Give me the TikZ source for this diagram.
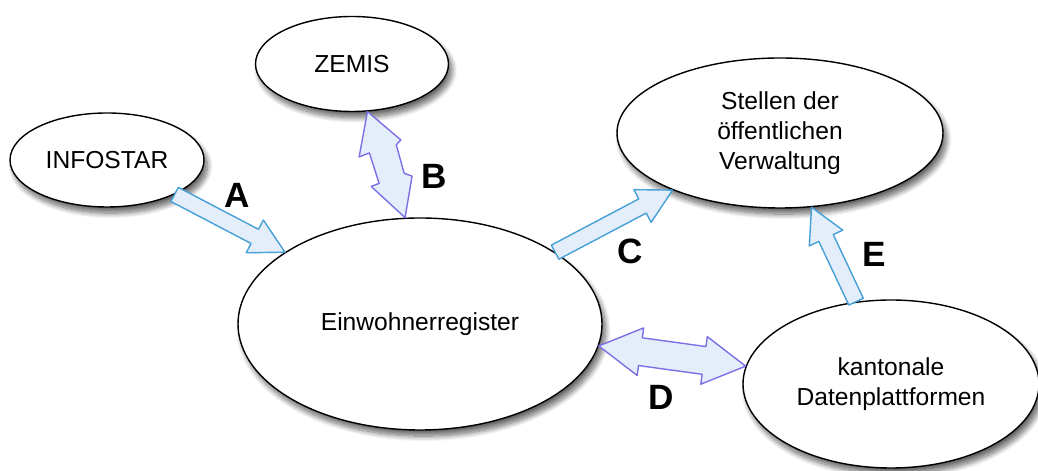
\documentclass[tikz,border=0pt]{standalone}
\usepackage{fontspec}
\setmainfont{Liberation Sans}
\usetikzlibrary{shapes.geometric,calc,shadows.blur}

\definecolor{arrowfill}{RGB}{228,238,250}
\definecolor{bluedge}{RGB}{70,160,215}
\definecolor{violetedge}{RGB}{125,112,230}

\tikzset{
  register/.style={ellipse, draw=black, line width=0.8pt, fill=white, inner sep=0pt, align=center,
    font=\fontsize{14}{17}\selectfont,
    blur shadow={shadow xshift=2pt, shadow yshift=-3.5pt, shadow blur radius=3pt, shadow blur steps=12, shadow opacity=60}},
  flowblue/.style={draw=bluedge, fill=arrowfill, line width=0.8pt, line join=round},
  flowviolet/.style={draw=violetedge, fill=arrowfill, line width=0.8pt, line join=round},
  letter/.style={font=\fontsize{20}{24}\selectfont\bfseries}
}

% block arrow with one head
\newcommand{\onewayarrow}[3]{%
  \coordinate (hb) at ($(#3)!0.68cm!(#2)$);
  \draw[#1] ($(#2)!0.16cm!90:(#3)$) -- ($(hb)!0.16cm!90:(#3)$) -- ($(hb)!0.37cm!90:(#3)$) -- (#3)
    -- ($(hb)!0.37cm!-90:(#3)$) -- ($(hb)!0.16cm!-90:(#3)$) -- ($(#2)!0.16cm!-90:(#3)$) -- cycle;}

% block arrow with two heads
\newcommand{\twowayarrow}[3]{%
  \coordinate (ha) at ($(#2)!0.84cm!(#3)$);
  \coordinate (hb) at ($(#3)!0.84cm!(#2)$);
  \draw[#1] (#2) -- ($(ha)!0.48cm!90:(#3)$) -- ($(ha)!0.28cm!90:(#3)$) -- ($(hb)!0.28cm!90:(#3)$)
    -- ($(hb)!0.48cm!90:(#3)$) -- (#3) -- ($(hb)!0.48cm!-90:(#3)$) -- ($(hb)!0.28cm!-90:(#3)$)
    -- ($(ha)!0.28cm!-90:(#3)$) -- ($(ha)!0.48cm!-90:(#3)$) -- cycle;}

% two heads, zigzag shaft
\newcommand{\boltarrow}[3]{%
  \coordinate (q1) at ($(#2)!0.337!(#3)$);
  \coordinate (q2) at ($(#2)!0.364!(#3)$);
  \coordinate (q3) at ($(#2)!0.626!(#3)$);
  \coordinate (q4) at ($(#2)!0.673!(#3)$);
  \coordinate (q5) at ($(#2)!0.638!(#3)$);
  \coordinate (q6) at ($(#2)!0.636!(#3)$);
  \coordinate (q7) at ($(#2)!0.352!(#3)$);
  \coordinate (q8) at ($(#2)!0.355!(#3)$);
  \draw[#1] (#2) -- ($(q1)!0.44cm!90:(#3)$) -- ($(q2)!0.32cm!90:(#3)$) -- ($(q3)!0.28cm!90:(#3)$)
    -- ($(q4)!0.41cm!90:(#3)$) -- (#3) -- ($(q5)!0.43cm!-90:(#3)$) -- ($(q6)!0.26cm!-90:(#3)$)
    -- ($(q7)!0.24cm!-90:(#3)$) -- ($(q8)!0.46cm!-90:(#3)$) -- cycle;}

\begin{document}
\begin{tikzpicture}
  \useasboundingbox (0,0) rectangle (20.76,9.42);

  \node[register, minimum width=3.88cm, minimum height=1.88cm] (infostar) at (2.14,6.22) {INFOSTAR};
  \node[register, minimum width=3.86cm, minimum height=1.9cm] (zemis) at (7.04,8.14) {ZEMIS};
  \node[register, minimum width=6.52cm, minimum height=3cm] (stellen) at (15.6,6.76) {Stellen der\\öffentlichen\\Verwaltung};
  \node[register, minimum width=7.28cm, minimum height=4.24cm] (einw) at (8.4,2.94) {Einwohnerregister};
  \node[register, minimum width=5.92cm, minimum height=3.36cm] (kanton) at (17.82,1.74) {kantonale\\Datenplattformen};

  \coordinate (Astart) at (infostar.-27);
  \coordinate (Aend) at (einw.152);
  \coordinate (Bstart) at (zemis.-72);
  \coordinate (Bend) at (einw.98);
  \coordinate (Cstart) at (einw.28);
  \coordinate (Cend) at (stellen.-152);
  \coordinate (Dstart) at (einw.-7);
  \coordinate (Dend) at (kanton.173);
  \coordinate (Estart) at (kanton.113);
  \coordinate (Eend) at (stellen.-67);

  \onewayarrow{flowblue}{Astart}{Aend}
  \boltarrow{flowviolet}{Bstart}{Bend}
  \onewayarrow{flowblue}{Cstart}{Cend}
  \twowayarrow{flowviolet}{Dstart}{Dend}
  \onewayarrow{flowblue}{Estart}{Eend}

  \node[letter] (labA) at (4.75,5.52) {A};
  \node[letter] (labB) at (8.68,5.9) {B};
  \node[letter] (labC) at (12.6,4.4) {C};
  \node[letter] (labD) at (13.22,1.48) {D};
  \node[letter] (labE) at (17.48,4.34) {E};
\end{tikzpicture}
\end{document}
